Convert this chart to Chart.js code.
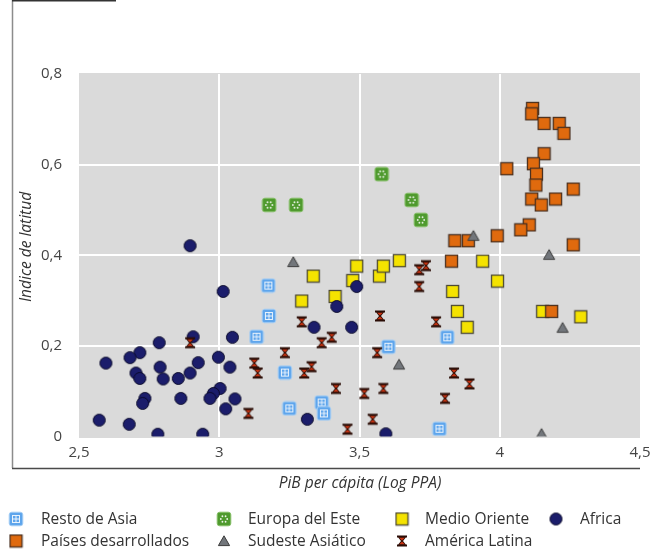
<!DOCTYPE html>
<html>
<head>
<meta charset="utf-8">
<script src="https://cdn.jsdelivr.net/npm/chart.js@4/dist/chart.umd.min.js"></script>
<style>
  html, body { margin: 0; padding: 0; background: #fff; }
  #wrap { width: 662px; height: 550px; position: relative; }
</style>
</head>
<body>
<div id="wrap"><canvas id="chart" width="662" height="550"></canvas></div>
<script>
// Tick labels (Spanish decimal comma)
const xTickLabels = ['2,5', '3', '3,5', '4', '4,5'];
const yTickLabels = ['0', '0,2', '0,4', '0,6', '0,8'];

// Series: [PIB per cápita (log PPA), índice de latitud]
const restoDeAsia = [
  [3.133, 0.220], [3.175, 0.333], [3.177, 0.266], [3.234, 0.141], [3.250, 0.062],
  [3.365, 0.075], [3.373, 0.051], [3.603, 0.198], [3.813, 0.219], [3.785, 0.017]
];
const europaDelEste = [
  [3.178, 0.511], [3.274, 0.511], [3.579, 0.579], [3.686, 0.522], [3.719, 0.478]
];
const medioOriente = [
  [3.294, 0.299], [3.335, 0.354], [3.413, 0.309], [3.476, 0.344], [3.490, 0.376],
  [3.571, 0.354], [3.585, 0.376], [3.642, 0.388], [3.939, 0.387], [3.992, 0.343],
  [3.832, 0.320], [3.849, 0.276], [3.884, 0.241], [4.153, 0.276], [4.289, 0.264]
];
const africa = [
  [2.896, 0.421], [3.014, 0.320], [3.047, 0.219], [2.907, 0.220], [2.786, 0.207],
  [2.717, 0.185], [2.682, 0.174], [2.596, 0.162], [2.997, 0.175], [2.925, 0.163],
  [3.038, 0.153], [2.789, 0.153], [2.703, 0.140], [2.717, 0.128], [2.800, 0.127],
  [2.854, 0.128], [2.896, 0.140], [3.003, 0.106], [2.979, 0.095], [2.967, 0.084],
  [3.056, 0.083], [2.735, 0.084], [2.727, 0.073], [2.863, 0.084], [3.023, 0.061],
  [2.572, 0.036], [2.679, 0.027], [2.781, 0.005], [2.941, 0.005],
  [3.490, 0.331], [3.419, 0.287], [3.338, 0.241], [3.472, 0.241], [3.314, 0.038],
  [3.594, 0.006]
];
const paisesDesarrollados = [
  [4.117, 0.724], [4.114, 0.712], [4.158, 0.691], [4.212, 0.691], [4.229, 0.669],
  [4.158, 0.624], [4.120, 0.602], [4.025, 0.591], [4.131, 0.579], [4.129, 0.555],
  [4.262, 0.546], [4.114, 0.524], [4.199, 0.524], [4.148, 0.511], [4.105, 0.467],
  [4.075, 0.456], [3.991, 0.443], [3.888, 0.432], [3.840, 0.432], [4.262, 0.423],
  [3.828, 0.387], [4.185, 0.276]
];
const sudesteAsiatico = [
  [3.264, 0.385], [3.641, 0.159], [3.906, 0.443], [4.176, 0.401], [4.224, 0.240],
  [4.149, 0.006]
];
const americaLatina = [
  [2.896, 0.207], [3.125, 0.162], [3.137, 0.140], [3.104, 0.051], [3.234, 0.185],
  [3.294, 0.253], [3.303, 0.140], [3.329, 0.154], [3.365, 0.207], [3.401, 0.219],
  [3.416, 0.106], [3.457, 0.016], [3.517, 0.095], [3.547, 0.038], [3.563, 0.185],
  [3.573, 0.266], [3.585, 0.106], [3.713, 0.331], [3.713, 0.368], [3.737, 0.377],
  [3.773, 0.253], [3.805, 0.084], [3.837, 0.140], [3.892, 0.116]
];

const FONT = '"Open Sans", "DejaVu Sans", sans-serif';

// ---- marker sprites ----
function sprite(w, h, draw) {
  const c = document.createElement('canvas');
  c.width = w; c.height = h;
  const g = c.getContext('2d');
  g.translate(w / 2, h / 2);
  draw(g);
  return c;
}
function roundRect(g, x, y, w, h, r) {
  g.beginPath();
  g.moveTo(x + r, y);
  g.lineTo(x + w - r, y); g.quadraticCurveTo(x + w, y, x + w, y + r);
  g.lineTo(x + w, y + h - r); g.quadraticCurveTo(x + w, y + h, x + w - r, y + h);
  g.lineTo(x + r, y + h); g.quadraticCurveTo(x, y + h, x, y + h - r);
  g.lineTo(x, y + r); g.quadraticCurveTo(x, y, x + r, y);
  g.closePath();
}

const mkAsia = sprite(16, 16, g => {
  roundRect(g, -6.8, -6.8, 13.6, 13.6, 2.5);
  g.fillStyle = '#5ea5ec'; g.fill();
  g.strokeStyle = '#a7cff5'; g.lineWidth = 1; g.stroke();
  g.strokeStyle = 'rgba(255,255,255,0.85)'; g.lineWidth = 1;
  g.strokeRect(-3.5, -3.5, 7, 7);
  g.beginPath(); g.moveTo(0, -3.5); g.lineTo(0, 3.5); g.moveTo(-3.5, 0); g.lineTo(3.5, 0); g.stroke();
});
const mkEuropa = sprite(16, 16, g => {
  roundRect(g, -6.8, -6.8, 13.6, 13.6, 2.5);
  g.fillStyle = '#4f9a2e'; g.fill();
  g.strokeStyle = '#86bf68'; g.lineWidth = 1; g.stroke();
  g.fillStyle = 'rgba(255,255,255,0.9)';
  for (let i = 0; i < 6; i++) {
    const a = i * Math.PI / 3;
    g.beginPath(); g.arc(Math.cos(a) * 3.2, Math.sin(a) * 3.2, 0.9, 0, Math.PI * 2); g.fill();
  }
});
const mkMedio = sprite(15, 15, g => {
  g.fillStyle = '#f5e300'; g.fillRect(-6, -6, 12, 12);
  g.strokeStyle = '#4d4a35'; g.lineWidth = 1.3; g.strokeRect(-6, -6, 12, 12);
});
const mkPaises = sprite(15, 15, g => {
  g.fillStyle = '#e06a0e'; g.fillRect(-6, -6, 12, 12);
  g.strokeStyle = '#4a3020'; g.lineWidth = 1.3; g.strokeRect(-6, -6, 12, 12);
});
const mkAfrica = sprite(15, 15, g => {
  g.beginPath(); g.arc(0, 0, 6, 0, Math.PI * 2);
  g.fillStyle = '#1b1d6b'; g.fill();
  g.strokeStyle = '#0b0b2c'; g.lineWidth = 1; g.stroke();
});
const mkSudeste = sprite(14, 14, g => {
  g.beginPath(); g.moveTo(0, -5.2); g.lineTo(5.6, 4.6); g.lineTo(-5.6, 4.6); g.closePath();
  g.fillStyle = '#72767b'; g.fill();
  g.strokeStyle = '#3c3c3c'; g.lineWidth = 1; g.stroke();
});
const mkLatina = sprite(14, 14, g => {
  g.beginPath();
  g.moveTo(-5, -5.5); g.lineTo(5, -5.5); g.lineTo(5, -3.4); g.lineTo(3.8, -3.4);
  g.lineTo(1, 0); g.lineTo(3.8, 3.4); g.lineTo(5, 3.4); g.lineTo(5, 5.5);
  g.lineTo(-5, 5.5); g.lineTo(-5, 3.4); g.lineTo(-3.8, 3.4); g.lineTo(-1, 0);
  g.lineTo(-3.8, -3.4); g.lineTo(-5, -3.4); g.closePath();
  g.fillStyle = '#2a0d06'; g.fill();
  g.fillStyle = '#cc3412';
  g.beginPath(); g.moveTo(-2.9, -3.2); g.lineTo(2.9, -3.2); g.lineTo(0, -0.5); g.closePath(); g.fill();
  g.beginPath(); g.moveTo(-2.9, 3.2); g.lineTo(2.9, 3.2); g.lineTo(0, 0.5); g.closePath(); g.fill();
});

const toPts = arr => arr.map(([x, y]) => ({ x, y }));

const series = [
  { label: 'Resto de Asia', data: restoDeAsia, marker: mkAsia, order: 2, legend: [0, 0] },
  { label: 'Europa del Este', data: europaDelEste, marker: mkEuropa, order: 7, legend: [1, 0] },
  { label: 'Medio Oriente', data: medioOriente, marker: mkMedio, order: 6, legend: [2, 0] },
  { label: 'Africa', data: africa, marker: mkAfrica, order: 3, legend: [3, 0] },
  { label: 'Países desarrollados', data: paisesDesarrollados, marker: mkPaises, order: 5, legend: [0, 1] },
  { label: 'Sudeste Asiático', data: sudesteAsiatico, marker: mkSudeste, order: 4, legend: [1, 1] },
  { label: 'América Latina', data: americaLatina, marker: mkLatina, order: 1, legend: [2, 1] }
];

// gray plotting panel behind the points
const panelPlugin = {
  id: 'panel',
  beforeDraw(chart) {
    const { ctx, chartArea: a } = chart;
    ctx.save();
    ctx.fillStyle = '#dadada';
    ctx.fillRect(a.left, a.top - 1, a.right - a.left, a.bottom - a.top + 2.5);
    ctx.restore();
  }
};

// frame, axis titles and legend
const decorPlugin = {
  id: 'decor',
  afterDraw(chart) {
    const ctx = chart.ctx;
    ctx.save();
    // frame lines
    ctx.strokeStyle = '#8c8c8c'; ctx.lineWidth = 1.5;
    ctx.beginPath(); ctx.moveTo(12.5, 0); ctx.lineTo(12.5, 468); ctx.stroke();
    ctx.strokeStyle = '#4a4a4a';
    ctx.beginPath(); ctx.moveTo(12, 468.5); ctx.lineTo(640, 468.5); ctx.stroke();
    ctx.strokeStyle = '#333'; ctx.lineWidth = 2;
    ctx.beginPath(); ctx.moveTo(12, 0.5); ctx.lineTo(116, 0.5); ctx.stroke();

    // axis titles
    ctx.fillStyle = '#333';
    ctx.font = 'italic 15.5px ' + FONT;
    ctx.textAlign = 'center'; ctx.textBaseline = 'middle';
    ctx.fillText('PiB per cápita (Log PPA)', 360, 484);
    ctx.save();
    ctx.translate(27, 247);
    ctx.rotate(-Math.PI / 2);
    ctx.fillText('Indice de latitud', 0, 0);
    ctx.restore();

    // legend
    const colMarker = [16, 224, 402, 556];
    const colText = [41, 248, 425, 580];
    const rowY = [519, 541];
    ctx.font = '15.5px ' + FONT;
    ctx.textAlign = 'left';
    series.forEach(s => {
      const [c, r] = s.legend;
      const m = s.marker;
      ctx.drawImage(m, colMarker[c] - m.width / 2, rowY[r] - m.height / 2);
      ctx.fillText(s.label, colText[c], rowY[r] + 1);
    });
    ctx.restore();
  }
};

const innerGrid = ctx => (ctx.index > 0 && ctx.index < 4) ? '#ffffff' : 'rgba(0,0,0,0)';

new Chart(document.getElementById('chart'), {
  type: 'scatter',
  data: {
    datasets: series.map(s => ({
      label: s.label,
      data: toPts(s.data),
      pointStyle: s.marker,
      pointRadius: 6,
      pointHoverRadius: 6,
      order: s.order
    }))
  },
  options: {
    responsive: false,
    devicePixelRatio: 1,
    animation: false,
    layout: { padding: { left: 0, top: 74, right: 22, bottom: 73.5 } },
    plugins: { legend: { display: false }, tooltip: { enabled: false } },
    scales: {
      x: {
        type: 'linear', min: 2.5, max: 4.5,
        afterFit: s => { s.height = 40; },
        ticks: {
          stepSize: 0.5, padding: 7, color: '#444',
          font: { family: FONT, size: 15 },
          callback: (v, i) => xTickLabels[i]
        },
        grid: { color: innerGrid, lineWidth: 2, drawTicks: false },
        border: { display: false }
      },
      y: {
        type: 'linear', min: 0, max: 0.8,
        afterFit: s => { s.width = 79; },
        ticks: {
          stepSize: 0.2, padding: 17, color: '#444',
          font: { family: FONT, size: 15 },
          callback: (v, i) => yTickLabels[i]
        },
        grid: { color: innerGrid, lineWidth: 2, drawTicks: false },
        border: { display: false }
      }
    }
  },
  plugins: [panelPlugin, decorPlugin]
});
</script>
</body>
</html>
